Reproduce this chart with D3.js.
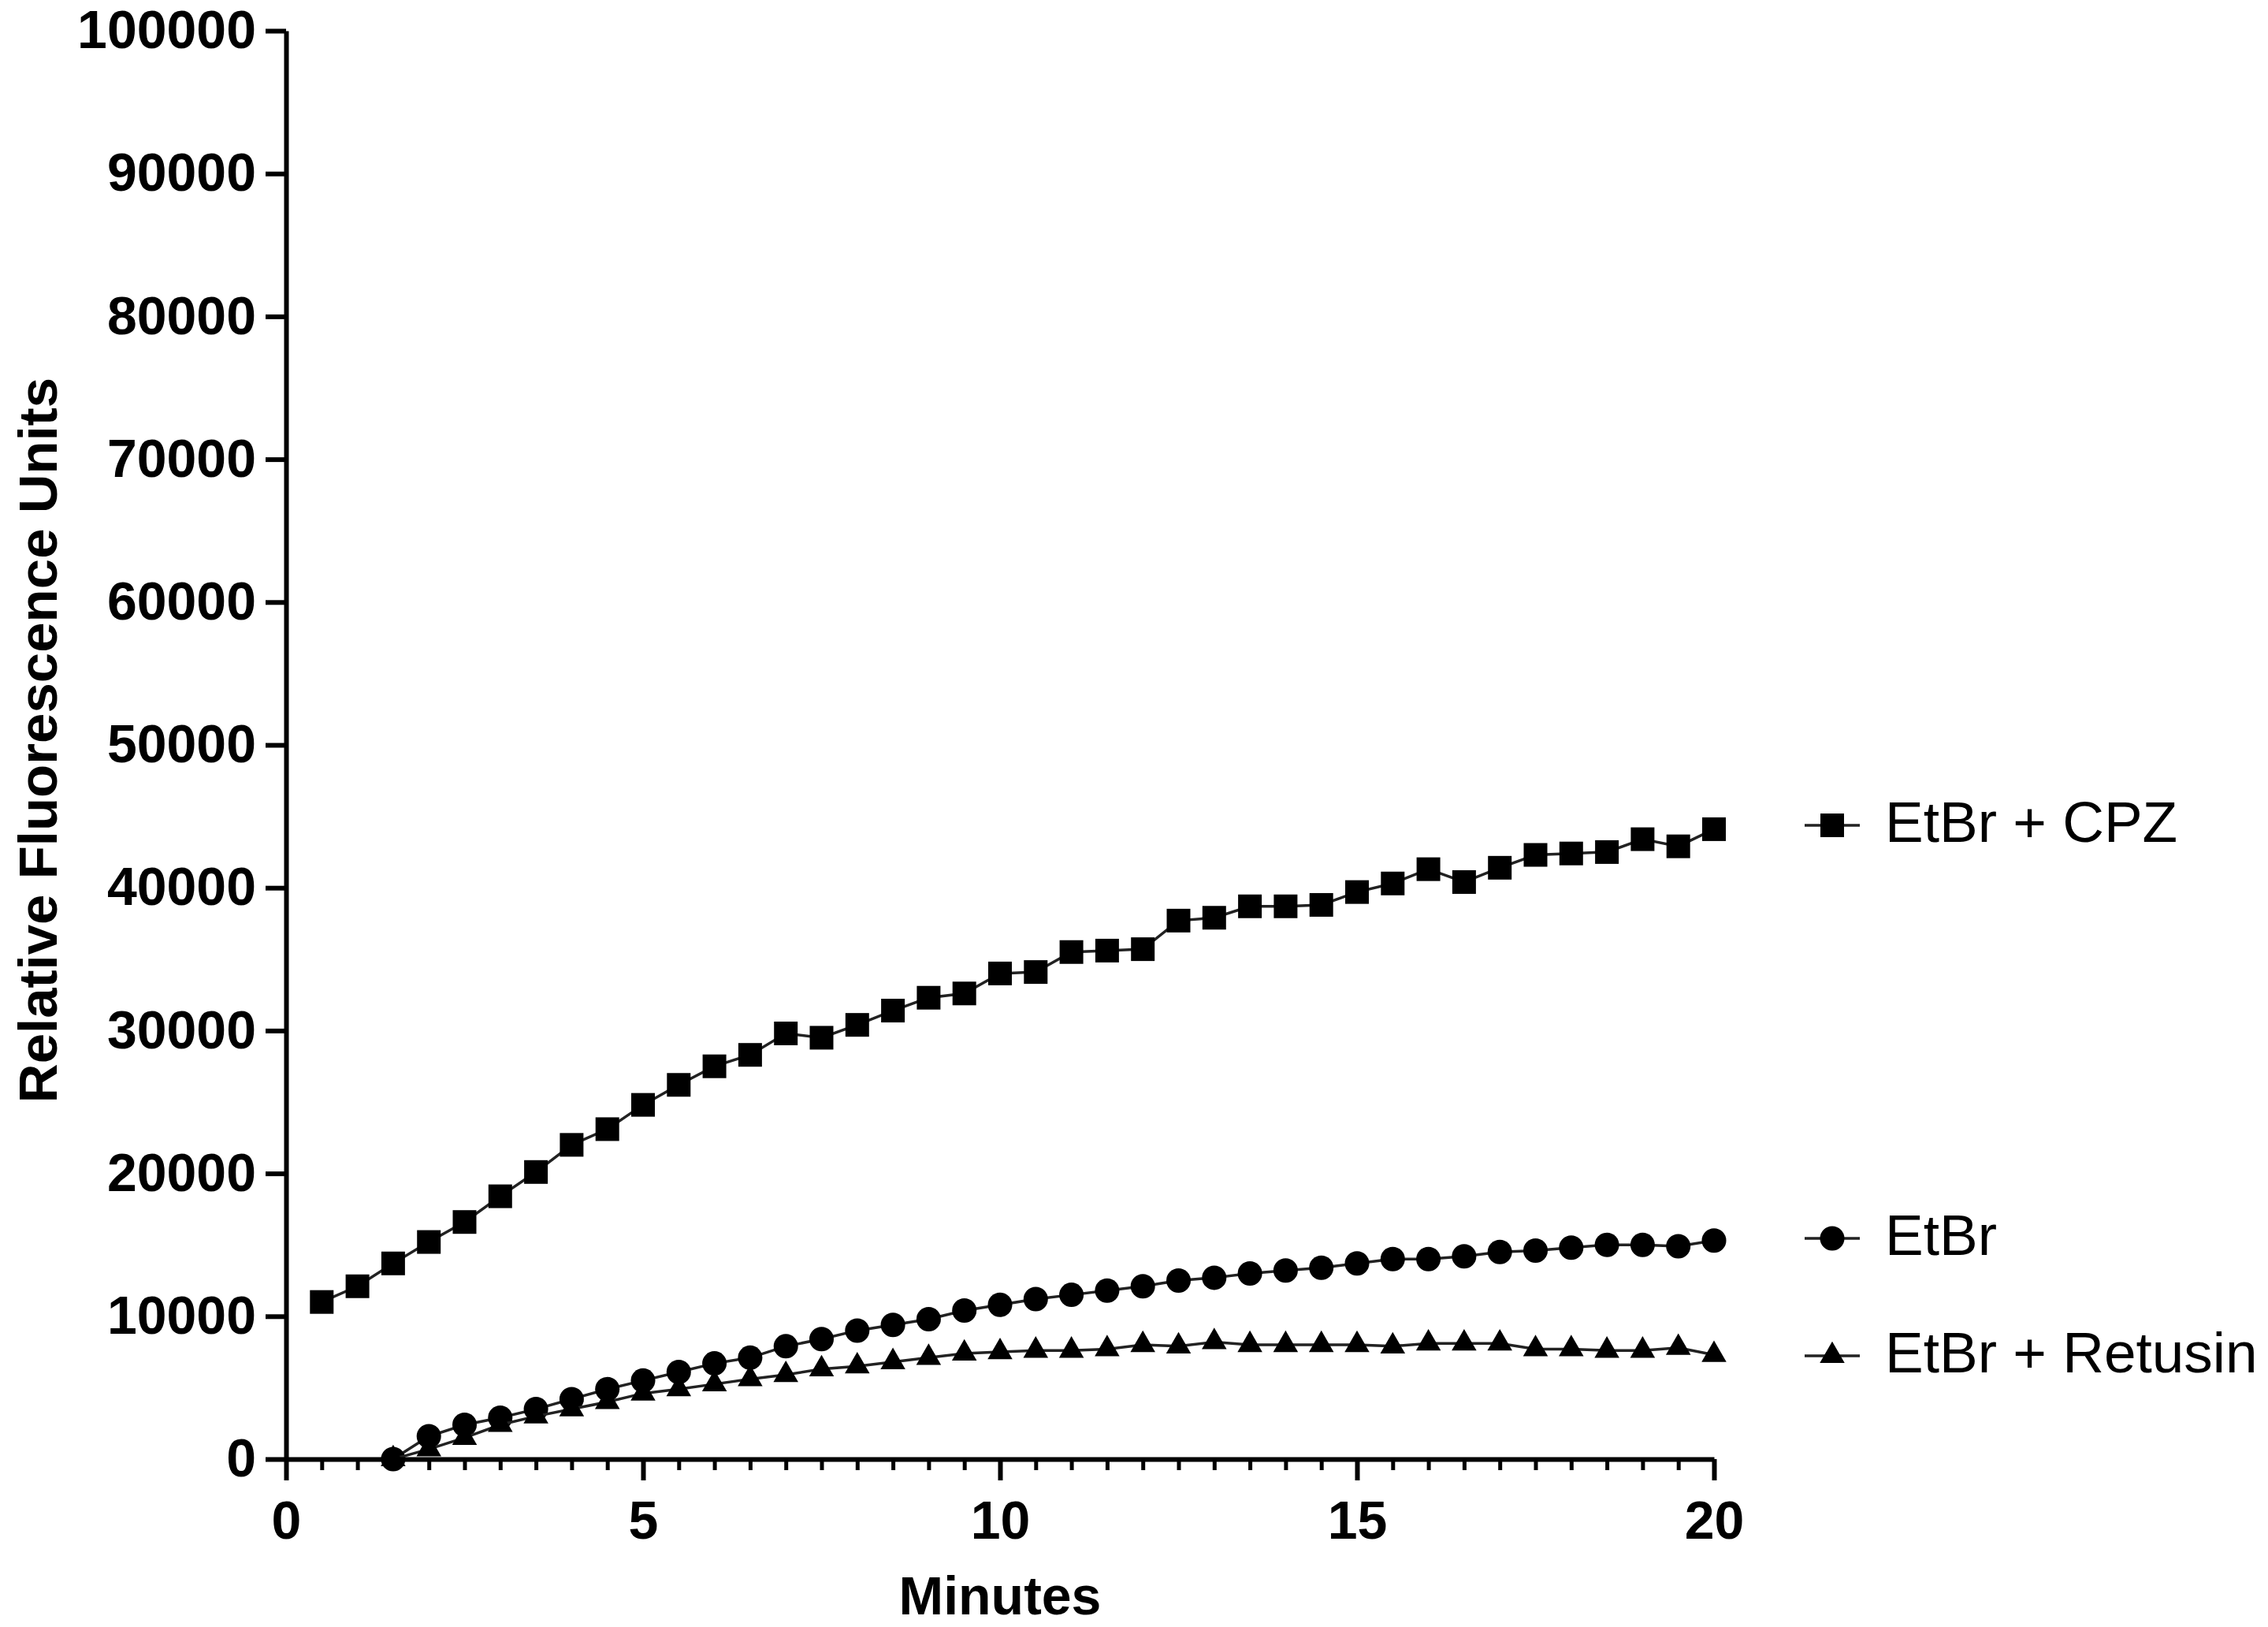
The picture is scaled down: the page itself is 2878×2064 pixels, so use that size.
<!DOCTYPE html>
<html>
<head>
<meta charset="utf-8">
<script src="https://cdn.jsdelivr.net/npm/d3@7"></script>
<style>
  html, body { margin: 0; padding: 0; background: #fff; }
  svg { display: block; }
  text { font-family: "Liberation Sans", Arial, Helvetica, sans-serif; fill: #000; }
</style>
</head>
<body>
<svg id="chart" width="2878" height="2064"></svg>
<script>
// ---- data ----
const minutes = [0.5,1,1.5,2,2.5,3,3.5,4,4.5,5,5.5,6,6.5,7,7.5,8,8.5,9,9.5,10,
                 10.5,11,11.5,12,12.5,13,13.5,14,14.5,15,15.5,16,16.5,17,17.5,18,18.5,19,19.5,20];
const cpz = [11000,12100,13700,15200,16600,18400,20100,22000,23100,24800,
             26200,27500,28300,29800,29500,30400,31400,32300,32600,34000,
             34100,35500,35600,35700,37700,37900,38700,38700,38800,39700,
             40300,41300,40400,41400,42300,42400,42500,43400,42900,44100];
const etbrMinutes = minutes.slice(2);
const etbr = [0,1600,2400,2900,3500,4200,4900,5500,6100,6700,
              7100,7900,8400,9000,9400,9800,10400,10800,11200,11500,
              11800,12100,12500,12700,13000,13200,13400,13700,14000,14000,
              14200,14500,14600,14800,15000,15000,14900,15300];
const retusin = [0,700,1500,2400,3000,3500,4000,4600,4900,5250,
                 5600,5900,6300,6500,6800,7100,7400,7500,7600,7600,
                 7700,8000,7900,8200,8000,8000,8000,8000,7900,8100,
                 8100,8100,7700,7700,7600,7600,7800,7300];
const seriesNames = ["EtBr + CPZ", "EtBr", "EtBr + Retusin"];
const symbolTypes = [d3.symbolSquare, d3.symbolCircle, d3.symbolTriangle];
const yTickValues = [0,10000,20000,30000,40000,50000,60000,70000,80000,90000,100000];
const xMajorTicks = [0,5,10,15,20];
const xMinorTicks = d3.range(0, 20.01, 0.5);
const xTitle = "Minutes";
const yTitle = "Relative Fluorescence Units";

// ---- layout ----
const svg = d3.select("#chart");
const x = d3.scaleLinear().domain([0, 20]).range([363, 2175]);
const y = d3.scaleLinear().domain([0, 100000]).range([1851, 39]);

const series = [
  { name: seriesNames[0], xs: minutes, ys: cpz, sym: symbolTypes[0], size: 30*30, legendY: 1047 },
  { name: seriesNames[1], xs: etbrMinutes, ys: etbr, sym: symbolTypes[1], size: Math.PI*15.5*15.5, legendY: 1571 },
  { name: seriesNames[2], xs: etbrMinutes, ys: retusin, sym: symbolTypes[2], size: 430, legendY: 1720 }
];

const line = d3.line().x(d => x(d[0])).y(d => y(d[1]));

const plot = svg.append("g");
series.forEach(s => {
  const pts = s.xs.map((v, i) => [v, s.ys[i]]);
  plot.append("path").datum(pts)
    .attr("d", line).attr("fill", "none")
    .attr("stroke", "#222").attr("stroke-width", 3.5);
  plot.selectAll(null).data(pts).enter().append("path")
    .attr("transform", d => `translate(${x(d[0])},${y(d[1])})`)
    .attr("d", d3.symbol().type(s.sym).size(s.size))
    .attr("fill", "#000");
});

// ---- axes ----
const axisStroke = 6;
const gxMinor = svg.append("g").attr("transform", `translate(0,${y(0)})`)
  .call(d3.axisBottom(x).tickValues(xMinorTicks).tickSize(14).tickSizeOuter(0).tickFormat(""));
gxMinor.select(".domain").remove();
gxMinor.selectAll("line").attr("stroke", "#000").attr("stroke-width", 5);

const gx = svg.append("g").attr("transform", `translate(0,${y(0)})`)
  .call(d3.axisBottom(x).tickValues(xMajorTicks).tickSize(27).tickSizeOuter(0).tickPadding(26).tickFormat(d3.format("d")));
gx.select(".domain").attr("stroke", "#000").attr("stroke-width", axisStroke);
gx.selectAll("line").attr("stroke", "#000").attr("stroke-width", axisStroke);
gx.selectAll("text").attr("font-size", 68).attr("font-weight", "bold")
  .attr("font-family", '"Liberation Sans", Arial, sans-serif').attr("fill", "#000");

const gy = svg.append("g").attr("transform", `translate(${x(0)},0)`)
  .call(d3.axisLeft(y).tickValues(yTickValues).tickSize(26).tickSizeOuter(0).tickPadding(12).tickFormat(d3.format("d")));
gy.select(".domain").attr("stroke", "#000").attr("stroke-width", axisStroke);
gy.selectAll("line").attr("stroke", "#000").attr("stroke-width", axisStroke);
gy.selectAll("text").attr("font-size", 68).attr("font-weight", "bold")
  .attr("font-family", '"Liberation Sans", Arial, sans-serif').attr("fill", "#000");

// ---- titles ----
svg.append("text").attr("x", (x(0)+x(20))/2).attr("y", 2048)
  .attr("text-anchor", "middle").attr("font-size", 68).attr("font-weight", "bold").text(xTitle);
svg.append("text").attr("transform", `translate(72,${(y(0)+y(100000))/2 - 6}) rotate(-90)`)
  .attr("text-anchor", "middle").attr("font-size", 69).attr("font-weight", "bold").text(yTitle);

// ---- legend ----
const lg = svg.append("g");
series.forEach(s => {
  const g = lg.append("g").attr("transform", `translate(2325,${s.legendY})`);
  g.append("line").attr("x1", -35).attr("x2", 35).attr("stroke", "#222").attr("stroke-width", 3.5);
  g.append("path").attr("d", d3.symbol().type(s.sym).size(s.size)).attr("fill", "#000");
  g.append("text").attr("x", 67).attr("y", 21).attr("font-size", 73).text(s.name);
});
</script>
</body>
</html>
